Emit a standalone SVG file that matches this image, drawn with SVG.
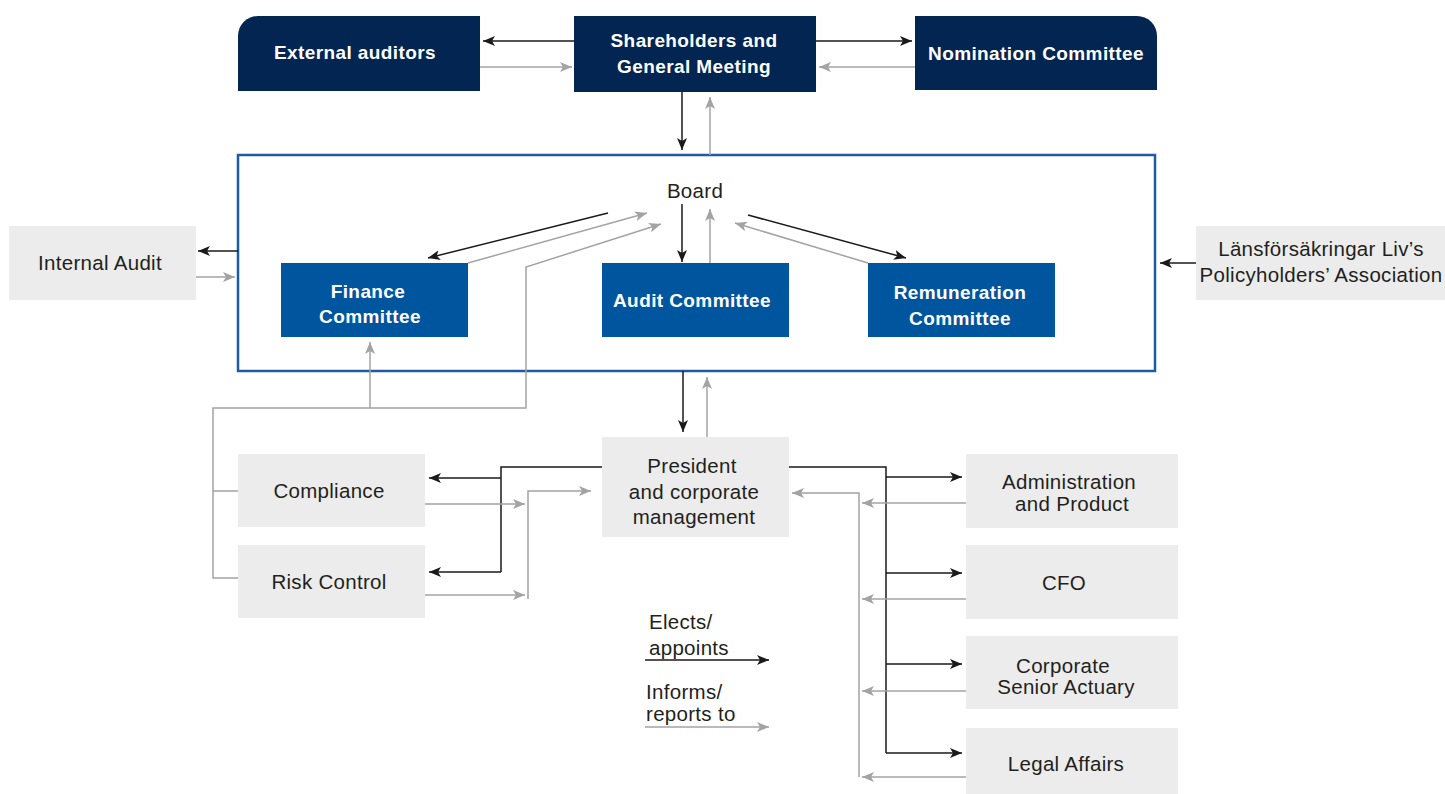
<svg xmlns="http://www.w3.org/2000/svg" width="1445" height="794" viewBox="0 0 1445 794">
  <style>
    .navy { fill: #022552; }
    .blue { fill: #00559f; }
    .grey { fill: #ececec; }
    .frame { fill: none; stroke: #1f5ba3; stroke-width: 2.5; }
    .t { font-family: "Liberation Sans", Arial, sans-serif; font-size: 20.5px; letter-spacing: 0.3px; fill: #231f20; text-anchor: middle; dominant-baseline: central; }
    .tb { font-family: "Liberation Sans", Arial, sans-serif; font-size: 19px; letter-spacing: 0.4px; font-weight: bold; fill: #ffffff; text-anchor: middle; dominant-baseline: central; }
    .k { fill: none; stroke: #1a1a1a; stroke-width: 1.5; }
    .g { fill: none; stroke: #a3a3a3; stroke-width: 1.5; }
    .ka { marker-end: url(#ak); }
    .ga { marker-end: url(#ag); }
  </style>
  <defs>
    <marker id="ak" viewBox="0 0 12 10" refX="12" refY="5" markerWidth="12" markerHeight="10" markerUnits="userSpaceOnUse" orient="auto">
      <path d="M0,0 L12,5 L0,10 L3,5 z" fill="#1a1a1a"/>
    </marker>
    <marker id="ag" viewBox="0 0 12 10" refX="12" refY="5" markerWidth="12" markerHeight="10" markerUnits="userSpaceOnUse" orient="auto">
      <path d="M0,0 L12,5 L0,10 L3,5 z" fill="#a3a3a3"/>
    </marker>
  </defs>

  <!-- Board frame -->
  <g id="board">
    <rect class="frame" x="238" y="155" width="917" height="216"/>
    <text class="t" x="695" y="190">Board</text>
  </g>

  <!-- Top row -->
  <g id="external-auditors">
    <path class="navy" d="M258,16 H480 V91 H238 V36 A20,20 0 0 1 258,16 z"/>
    <text class="tb" x="355" y="52">External auditors</text>
  </g>
  <g id="shareholders">
    <rect class="navy" x="574" y="16" width="242" height="76"/>
    <text class="tb" x="694" y="40">Shareholders and</text>
    <text class="tb" x="694" y="66">General Meeting</text>
  </g>
  <g id="nomination-committee">
    <path class="navy" d="M915,16 H1137 A20,20 0 0 1 1157,36 V90 H915 z"/>
    <text class="tb" x="1036" y="53">Nomination Committee</text>
  </g>

  <!-- Board committees -->
  <g id="finance-committee">
    <rect class="blue" x="281" y="263" width="187" height="74"/>
    <text class="tb" x="368" y="291">Finance</text>
    <text class="tb" x="370" y="316">Committee</text>
  </g>
  <g id="audit-committee">
    <rect class="blue" x="602" y="263" width="187" height="74"/>
    <text class="tb" x="692" y="300">Audit Committee</text>
  </g>
  <g id="remuneration-committee">
    <rect class="blue" x="868" y="263" width="187" height="74"/>
    <text class="tb" x="960" y="292">Remuneration</text>
    <text class="tb" x="960" y="318">Committee</text>
  </g>

  <!-- Side boxes -->
  <g id="internal-audit">
    <rect class="grey" x="9" y="226" width="187" height="74"/>
    <text class="t" x="100" y="262">Internal Audit</text>
  </g>
  <g id="policyholders-association">
    <rect class="grey" x="1196" y="226" width="249" height="74"/>
    <text class="t" x="1321" y="248">Länsförsäkringar Liv’s</text>
    <text class="t" x="1321" y="274">Policyholders’ Association</text>
  </g>

  <!-- Management level -->
  <g id="president">
    <rect class="grey" x="602" y="437" width="187" height="100"/>
    <text class="t" x="692" y="465">President</text>
    <text class="t" x="694" y="491">and corporate</text>
    <text class="t" x="694" y="516">management</text>
  </g>
  <g id="compliance">
    <rect class="grey" x="238" y="454" width="187" height="73"/>
    <text class="t" x="329" y="490">Compliance</text>
  </g>
  <g id="risk-control">
    <rect class="grey" x="238" y="545" width="187" height="73"/>
    <text class="t" x="329" y="581">Risk Control</text>
  </g>
  <g id="administration-product">
    <rect class="grey" x="966" y="454" width="212" height="74"/>
    <text class="t" x="1069" y="481">Administration</text>
    <text class="t" x="1072" y="503">and Product</text>
  </g>
  <g id="cfo">
    <rect class="grey" x="966" y="545" width="212" height="74"/>
    <text class="t" x="1064" y="582">CFO</text>
  </g>
  <g id="senior-actuary">
    <rect class="grey" x="966" y="636" width="212" height="73"/>
    <text class="t" x="1063" y="665">Corporate</text>
    <text class="t" x="1066" y="686">Senior Actuary</text>
  </g>
  <g id="legal-affairs">
    <rect class="grey" x="966" y="728" width="212" height="66"/>
    <text class="t" x="1066" y="763">Legal Affairs</text>
  </g>

  <!-- Connectors -->
  <g id="connectors">
    <!-- top row -->
    <line class="k ka" x1="574" y1="41" x2="483" y2="41"/>
    <line class="g ga" x1="480" y1="67" x2="572" y2="67"/>
    <line class="k ka" x1="816" y1="41" x2="912" y2="41"/>
    <line class="g ga" x1="915" y1="67" x2="819" y2="67"/>
    <line class="k ka" x1="682" y1="92" x2="682" y2="150"/>
    <line class="g ga" x1="710" y1="155" x2="710" y2="97"/>

    <!-- board to committees -->
    <line class="k ka" x1="608" y1="213" x2="428" y2="258"/>
    <line class="g ga" x1="468" y1="263" x2="647" y2="213"/>
    <line class="k ka" x1="682" y1="204" x2="682" y2="262"/>
    <line class="g ga" x1="710" y1="263" x2="710" y2="209"/>
    <line class="k ka" x1="748" y1="215" x2="906" y2="258"/>
    <line class="g ga" x1="868" y1="263" x2="735" y2="223"/>

    <!-- internal audit / policyholders -->
    <line class="k ka" x1="238" y1="251" x2="198" y2="251"/>
    <line class="g ga" x1="196" y1="277" x2="235" y2="277"/>
    <line class="k ka" x1="1196" y1="263" x2="1160" y2="263"/>

    <!-- control functions report to board and finance committee -->
    <polyline class="g" points="238,491 213,491 213,578 238,578"/>
    <polyline class="g ga" points="213,491 213,408 526,408 526,267 661,224"/>
    <line class="g ga" x1="370" y1="408" x2="370" y2="342"/>

    <!-- board to president -->
    <line class="k ka" x1="683" y1="371" x2="683" y2="432"/>
    <line class="g ga" x1="707" y1="437" x2="707" y2="377"/>

    <!-- president to compliance / risk control -->
    <polyline class="k" points="602,467 501,467 501,572"/>
    <line class="k ka" x1="501" y1="478" x2="429" y2="478"/>
    <line class="k ka" x1="501" y1="572" x2="429" y2="572"/>
    <line class="g ga" x1="425" y1="504" x2="525" y2="504"/>
    <line class="g ga" x1="425" y1="595" x2="525" y2="595"/>
    <polyline class="g ga" points="528,599 528,491 591,491"/>

    <!-- president to functions on the right -->
    <polyline class="k" points="789,467 886,467 886,753"/>
    <line class="k ka" x1="886" y1="477" x2="962" y2="477"/>
    <line class="k ka" x1="886" y1="573" x2="962" y2="573"/>
    <line class="k ka" x1="886" y1="664" x2="962" y2="664"/>
    <line class="k ka" x1="886" y1="753" x2="962" y2="753"/>
    <line class="g ga" x1="966" y1="503" x2="862" y2="503"/>
    <line class="g ga" x1="966" y1="599" x2="862" y2="599"/>
    <line class="g ga" x1="966" y1="691" x2="862" y2="691"/>
    <line class="g ga" x1="966" y1="777" x2="862" y2="777"/>
    <polyline class="g ga" points="859,777 859,493 792,493"/>
  </g>

  <!-- Legend -->
  <g id="legend">
    <text class="t" x="649" y="621" style="text-anchor:start">Elects/</text>
    <text class="t" x="649" y="647" style="text-anchor:start">appoints</text>
    <line class="k ka" x1="645" y1="660" x2="769" y2="660"/>
    <text class="t" x="646" y="691" style="text-anchor:start">Informs/</text>
    <text class="t" x="646" y="713" style="text-anchor:start">reports to</text>
    <line class="g ga" x1="645" y1="727" x2="769" y2="727"/>
  </g>
</svg>
